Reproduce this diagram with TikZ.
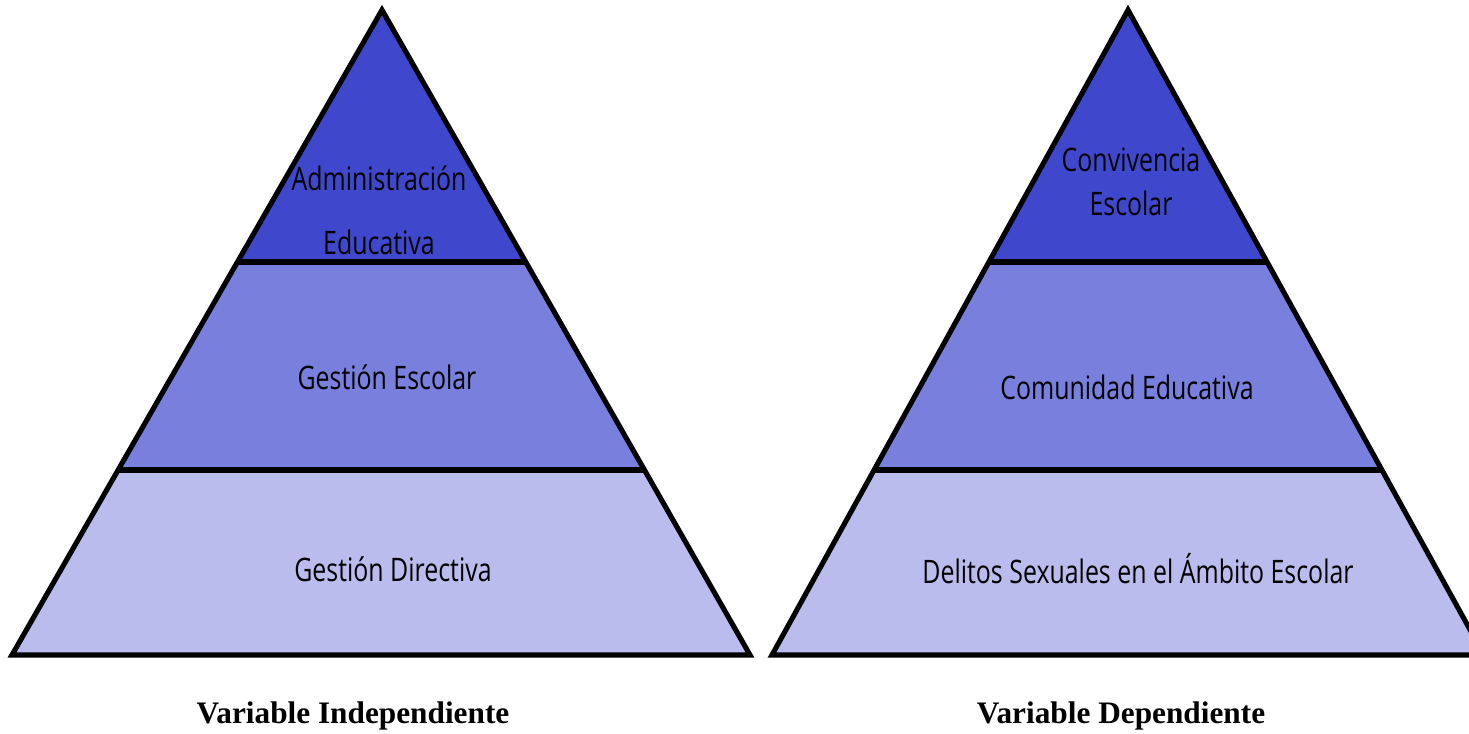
\documentclass[tikz,border=0pt]{standalone}
\usepackage{fontspec}
\setmainfont{Liberation Serif}
\newfontfamily\bandfont[FakeStretch=0.77]{Open Sans}
\usepackage{tikz}
\usetikzlibrary{calc}
\usepackage{xcolor}
\definecolor{topblue}{RGB}{63,72,204}
\definecolor{midblue}{RGB}{121,127,220}
\definecolor{lowblue}{RGB}{185,188,236}

\begin{document}
\begin{tikzpicture}[x=0.01cm, y=-0.01cm,
    outline/.style={line width=1.45pt, line join=miter},
    bandtext/.style={font=\bandfont\fontsize{9.2}{11}\selectfont, align=center, inner sep=0pt},
    caption/.style={font=\bfseries\fontsize{8.9}{10}\selectfont, inner sep=0pt}]
    \useasboundingbox (0,0) rectangle (1469,734);
    \clip (0,0) rectangle (1469,734);
    % variable independiente
    \fill[topblue] (382,10) -- (526,262) -- (238,262) -- cycle;
    \fill[midblue] (238,262) -- (526,262) -- (645,470) -- (119,470) -- cycle;
    \fill[lowblue] (119,470) -- (645,470) -- (750,655) -- (12,655) -- cycle;
    \draw[outline] (382,10) -- (750,655) -- (12,655) -- cycle;
    \draw[outline] (238,262) -- (526,262);
    \draw[outline] (119,470) -- (645,470);
    \node[bandtext] (admin) at (379,210) {Administración\\[2.5mm]Educativa};
    \node[bandtext] (gescolar) at (387,377) {Gestión Escolar};
    \node[bandtext] (gdirectiva) at (393,569) {Gestión Directiva};
    \node[caption] (indep) at (353,716) {Variable Independiente};
    % variable dependiente
    \fill[topblue] (1128,10) -- (1267,262) -- (989,262) -- cycle;
    \fill[midblue] (989,262) -- (1267,262) -- (1382,470) -- (874,470) -- cycle;
    \fill[lowblue] (874,470) -- (1382,470) -- (1484,655) -- (772,655) -- cycle;
    \draw[outline] (1128,10) -- (1484,655) -- (772,655) -- cycle;
    \draw[outline] (989,262) -- (1267,262);
    \draw[outline] (874,470) -- (1382,470);
    \node[bandtext] (conviv) at (1131,182) {Convivencia\\[0.5mm]Escolar};
    \node[bandtext] (comunidad) at (1127,387) {Comunidad Educativa};
    \node[bandtext] (delitos) at (1138,569) {Delitos Sexuales en el Ámbito Escolar};
    \node[caption] (dep) at (1121,716) {Variable Dependiente};
\end{tikzpicture}
\end{document}
